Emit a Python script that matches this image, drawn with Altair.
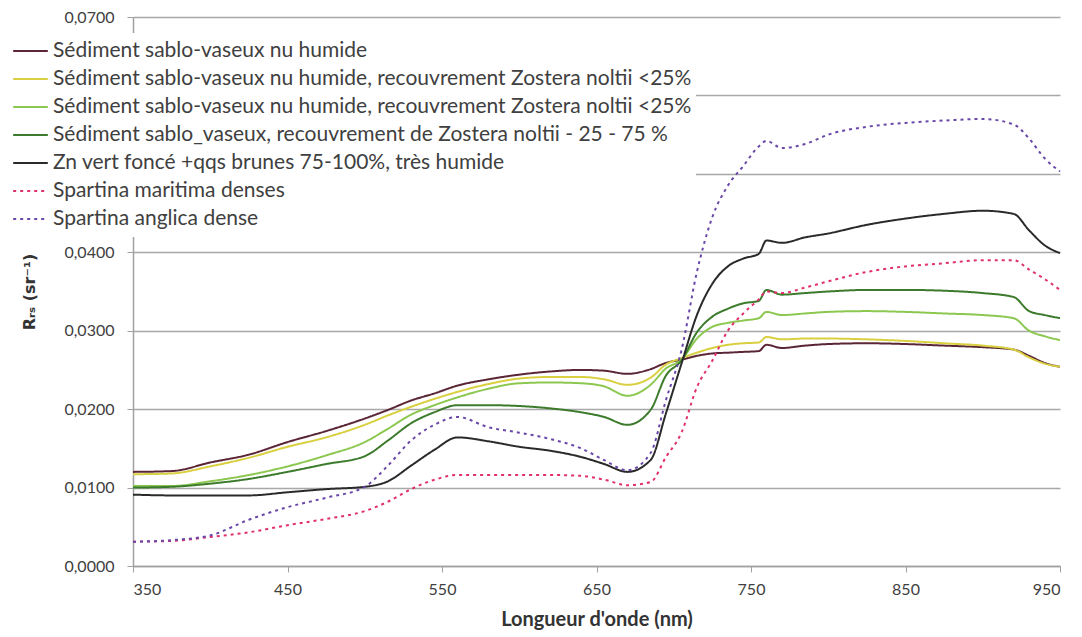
import json
import altair as alt
import pandas as pd

# ---- data ----
wavelengths = [350, 375, 400, 425, 450, 475, 500, 515, 530, 545, 560, 580, 600, 620,
               640, 655, 670, 685, 695, 705, 715, 725, 735, 745, 755, 760, 770, 785,
               800, 825, 850, 875, 900, 920, 930, 940, 950]

sed_nu = [0.0120, 0.0121, 0.0132, 0.0142, 0.0158, 0.0172, 0.0188, 0.0199, 0.0211, 0.0220,
          0.0230, 0.0238, 0.0244, 0.0248, 0.0250, 0.0249, 0.0245, 0.0251, 0.0259, 0.0263,
          0.0268, 0.0271, 0.0272, 0.0273, 0.0274, 0.0282, 0.0278, 0.0281, 0.0283, 0.0284,
          0.0283, 0.0281, 0.0279, 0.0276, 0.0268, 0.0259, 0.0254]

sed_zn_a = [0.0117, 0.0118, 0.0127, 0.0138, 0.0152, 0.0164, 0.0180, 0.0192, 0.0203, 0.0213,
            0.0222, 0.0232, 0.0239, 0.0241, 0.0241, 0.0238, 0.0231, 0.0240, 0.0257, 0.0265,
            0.0272, 0.0278, 0.0282, 0.0284, 0.0285, 0.0292, 0.0289, 0.0290, 0.0290, 0.0289,
            0.0287, 0.0284, 0.0281, 0.0276, 0.0266, 0.0258, 0.0254]

sed_zn_b = [0.0102, 0.0102, 0.0108, 0.0116, 0.0127, 0.0141, 0.0158, 0.0175, 0.0193, 0.0205,
            0.0215, 0.0226, 0.0233, 0.0234, 0.0233, 0.0229, 0.0217, 0.0231, 0.0252, 0.0263,
            0.0290, 0.0305, 0.0310, 0.0313, 0.0316, 0.0324, 0.0320, 0.0322, 0.0324, 0.0325,
            0.0324, 0.0322, 0.0320, 0.0316, 0.0300, 0.0293, 0.0288]

sed_zn_25_75 = [0.0100, 0.0101, 0.0105, 0.0111, 0.0120, 0.0130, 0.0140, 0.0160, 0.0182, 0.0196,
                0.0205, 0.0205, 0.0204, 0.0201, 0.0196, 0.0190, 0.0180, 0.0199, 0.0243, 0.0262,
                0.0298, 0.0318, 0.0328, 0.0335, 0.0338, 0.0352, 0.0346, 0.0348, 0.0350, 0.0352,
                0.0352, 0.0351, 0.0348, 0.0343, 0.0325, 0.0320, 0.0316]

zn_fonce = [0.0091, 0.0090, 0.0090, 0.0090, 0.0094, 0.0098, 0.0101, 0.0108, 0.0128, 0.0148,
            0.0164, 0.0159, 0.0152, 0.0147, 0.0139, 0.0130, 0.0120, 0.0135, 0.0195, 0.0258,
            0.0320, 0.0360, 0.0382, 0.0392, 0.0398, 0.0415, 0.0412, 0.0419, 0.0424, 0.0435,
            0.0443, 0.0449, 0.0453, 0.0449, 0.0428, 0.0409, 0.0399]

spartina_maritima = [0.0031, 0.0032, 0.0037, 0.0043, 0.0052, 0.0060, 0.0070, 0.0082, 0.0098, 0.0110,
                     0.0116, 0.0116, 0.0116, 0.0116, 0.0115, 0.0110, 0.0103, 0.0107, 0.0139, 0.0170,
                     0.0228, 0.0262, 0.0300, 0.0322, 0.0340, 0.0350, 0.0348, 0.0355, 0.0363, 0.0375,
                     0.0382, 0.0386, 0.0390, 0.0390, 0.0378, 0.0366, 0.0352]

spartina_anglica = [0.0031, 0.0033, 0.0039, 0.0059, 0.0075, 0.0087, 0.0101, 0.0128, 0.0160, 0.0180,
                    0.0190, 0.0177, 0.0170, 0.0162, 0.0150, 0.0135, 0.0122, 0.0144, 0.0212, 0.0275,
                    0.0375, 0.0445, 0.0485, 0.0510, 0.0535, 0.0542, 0.0533, 0.0538, 0.0550, 0.0560,
                    0.0565, 0.0568, 0.0570, 0.0563, 0.0545, 0.0520, 0.0503]

series_labels = [
    "Sédiment sablo-vaseux nu humide",
    "Sédiment sablo-vaseux nu humide, recouvrement Zostera noltii <25%",
    "Sédiment sablo-vaseux nu humide, recouvrement Zostera noltii <25%",
    "Sédiment sablo_vaseux, recouvrement de Zostera noltii - 25 - 75 %",
    "Zn vert foncé +qqs brunes 75-100%, très humide",
    "Spartina maritima denses",
    "Spartina anglica dense",
]
series_values = [sed_nu, sed_zn_a, sed_zn_b, sed_zn_25_75, zn_fonce,
                 spartina_maritima, spartina_anglica]
series_colors = ["#5a2535", "#d8d040", "#8cc850", "#3c7a2c", "#2a2a2a", "#e0306e", "#6a48a8"]
series_dashes = [[1, 0], [1, 0], [1, 0], [1, 0], [1, 0], [3, 4], [3, 4]]
series_widths = [2, 2, 2, 2, 2, 3, 3]

x_ticks = [350, 450, 550, 650, 750, 850, 950]
y_ticks = [0.0, 0.01, 0.02, 0.03, 0.04, 0.05, 0.06, 0.07]
# tick labels hidden behind the legend box in the reference
y_hidden = [0.05, 0.06]

keys = [str(i) for i in range(len(series_labels))]
rows = []
for k, vals in zip(keys, series_values):
    for w, v in zip(wavelengths, vals):
        rows.append({"serie": k, "wl": w, "rrs": v})
df = pd.DataFrame(rows)

label_expr = json.dumps(series_labels, ensure_ascii=False) + "[toNumber(datum.label)]"
y_label_expr = ("indexof(" + json.dumps([round(v * 100) for v in y_hidden]) +
                ", round(datum.value * 100)) >= 0 ? '' : "
                "replace(format(datum.value, '.4f'), '.', ',')")

legend_props = dict(
    title=None, orient="none", legendX=-125, legendY=16,
    fillColor="white", padding=4,
    labelFont="Lato", labelFontSize=21, labelColor="#404040", labelLimit=1000,
    symbolType="stroke", symbolSize=1200, symbolStrokeWidth=2.5,
    symbolOffset=0, labelOffset=4, rowPadding=0, clipHeight=28,
    labelExpr=label_expr,
)

chart = alt.Chart(df).mark_line(interpolate="monotone").encode(
    x=alt.X("wl:Q",
            scale=alt.Scale(domain=[350, 950], nice=False, zero=False),
            axis=alt.Axis(values=x_ticks, title="Longueur d'onde (nm)", grid=False,
                          labelFont="Lato", labelFontSize=16, labelColor="#404040",
                          tickSize=6, tickColor="#a0a0a0", domainColor="#a0a0a0",
                          domainWidth=1.5, labelPadding=9,
                          titleFont="Lato", titleFontSize=20, titleFontWeight="bold",
                          titleColor="#333333", titlePadding=12)),
    y=alt.Y("rrs:Q",
            scale=alt.Scale(domain=[0, 0.07], nice=False),
            axis=alt.Axis(values=y_ticks, title="Rᵣₛ (sr⁻¹)",
                          labelExpr=y_label_expr,
                          labelFont="Lato", labelFontSize=16, labelColor="#404040",
                          tickSize=6, tickColor="#a0a0a0", domainColor="#a0a0a0",
                          domainWidth=1.5, labelPadding=13,
                          gridColor="#a8a8a8", gridWidth=1.5,
                          titleFont="DejaVu Sans", titleFontSize=16, titleFontWeight="bold",
                          titleColor="#333333", titlePadding=26)),
    color=alt.Color("serie:N", scale=alt.Scale(domain=keys, range=series_colors),
                    legend=alt.Legend(**legend_props)),
    strokeDash=alt.StrokeDash("serie:N", scale=alt.Scale(domain=keys, range=series_dashes),
                              legend=alt.Legend(**legend_props)),
    strokeWidth=alt.StrokeWidth("serie:N", scale=alt.Scale(domain=keys, range=series_widths),
                                legend=None),
    order=alt.Order("wl:Q"),
).properties(
    width=927, height=549,
    autosize=alt.AutoSizeParams(type="none"),
    padding={"left": 125, "top": 9, "right": 14, "bottom": 70},
).configure_view(stroke=None)

chart.save("out.html", embed_options={"renderer": "svg", "actions": False})
